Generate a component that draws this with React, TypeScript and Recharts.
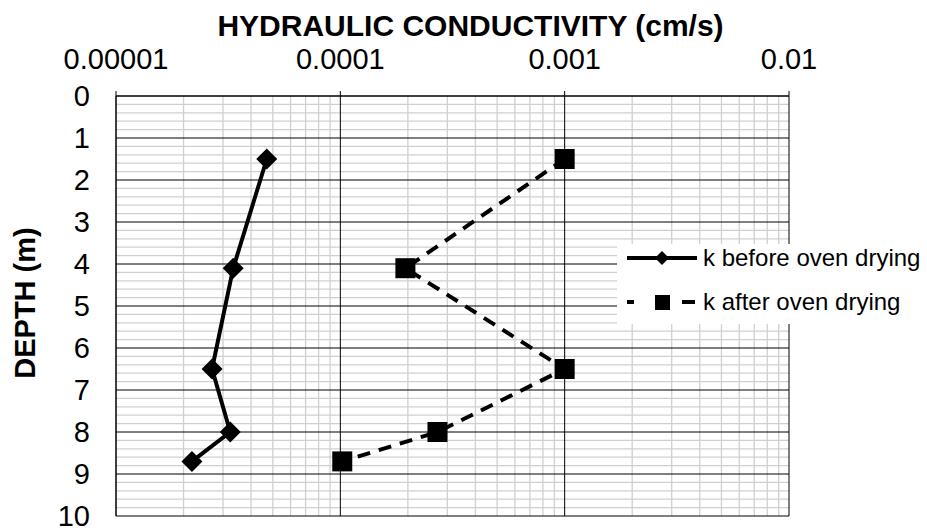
import React from "react"
import {
  Legend,
  ReferenceLine,
  Scatter,
  ScatterChart,
  XAxis,
  YAxis,
} from "recharts"

// depth of each sample (m) and conductivity (cm/s)
const DEPTHS = [1.5, 4.1, 6.5, 8.0, 8.7]
const K_BEFORE = [4.7e-5, 3.33e-5, 2.68e-5, 3.23e-5, 2.18e-5]
const K_AFTER = [1e-3, 1.95e-4, 1e-3, 2.71e-4, 1.02e-4]

const X_TICKS = [1e-5, 1e-4, 1e-3, 1e-2]
const X_TICK_LABELS = ["0.00001", "0.0001", "0.001", "0.01"]
const Y_TICKS = [0, 1, 2, 3, 4, 5, 6, 7, 8, 9, 10]

const SERIES_NAMES = ["k before oven drying", "k after oven drying"]

const FONT = "'Liberation Sans', Arial, sans-serif"

// minor gridlines: 2..9 within each decade, every 0.2 m in depth
const MINOR_X: number[] = []
for (const d of [1e-5, 1e-4, 1e-3]) for (let m = 2; m <= 9; m++) MINOR_X.push(m * d)
const MINOR_Y: number[] = []
for (let i = 1; i < 50; i++) if (i % 5 !== 0) MINOR_Y.push(i / 5)

const before = DEPTHS.map((depth, i) => ({ depth, k: K_BEFORE[i] }))
const after = DEPTHS.map((depth, i) => ({ depth, k: K_AFTER[i] }))

function Diamond({ cx, cy }: any) {
  const r = 10.5
  return <polygon points={`${cx},${cy - r} ${cx + r},${cy} ${cx},${cy + r} ${cx - r},${cy}`} fill="#000" />
}

function Square({ cx, cy }: any) {
  const r = 10
  return <rect x={cx - r} y={cy - r} width={2 * r} height={2 * r} fill="#000" />
}

function LegendBox() {
  const row = { display: "flex", alignItems: "center", height: 28 } as const
  const text = { fontFamily: FONT, fontSize: 24, color: "#000", whiteSpace: "nowrap" } as const
  return (
    <div style={{ background: "#fff", width: 310, height: 80, display: "flex", flexDirection: "column", gap: 16 }}>
      <div style={row}>
        <svg width={86} height={28}>
          <line x1={10} x2={80} y1={14} y2={14} stroke="#000" strokeWidth={4} />
          <polygon points="45,7 52,14 45,21 38,14" fill="#000" />
        </svg>
        <span style={text}>{SERIES_NAMES[0]}</span>
      </div>
      <div style={row}>
        <svg width={86} height={28}>
          <line x1={10} x2={17} y1={14} y2={14} stroke="#000" strokeWidth={4} />
          <rect x={38} y={7} width={15} height={15} fill="#000" />
          <line x1={65} x2={78} y1={14} y2={14} stroke="#000" strokeWidth={4} />
        </svg>
        <span style={text}>{SERIES_NAMES[1]}</span>
      </div>
    </div>
  )
}

export default function App() {
  return (
    <div>
      <style>{"body{margin:0}"}</style>
      <ScatterChart width={927} height={531} margin={{ top: 0, right: 138, bottom: 15, left: 0 }}>
        <XAxis
          dataKey="k"
          type="number"
          scale="log"
          domain={[1e-5, 1e-2]}
          allowDataOverflow
          orientation="top"
          height={96}
          ticks={X_TICKS}
          interval={0}
          tickFormatter={(v) => X_TICK_LABELS[X_TICKS.indexOf(v)]}
          tick={{ fill: "#000", fontSize: 29, fontFamily: FONT }}
          tickSize={5}
          tickMargin={22}
          tickLine={{ stroke: "#000" }}
          axisLine={{ stroke: "#000" }}
          label={{
            content: ({ viewBox }: any) => (
              <text
                x={viewBox.x + viewBox.width / 2 + 18}
                y={viewBox.y + 36}
                textAnchor="middle"
                fontFamily={FONT}
                fontSize={30}
                fontWeight="bold"
                fill="#000"
              >
                HYDRAULIC CONDUCTIVITY (cm/s)
              </text>
            ),
          }}
        />
        <YAxis
          dataKey="depth"
          type="number"
          domain={[0, 10]}
          reversed
          width={116}
          ticks={Y_TICKS}
          interval={0}
          tick={{ fill: "#000", fontSize: 29, fontFamily: FONT }}
          tickSize={0}
          tickMargin={26}
          tickLine={false}
          axisLine={{ stroke: "#000" }}
          label={{
            content: ({ viewBox }: any) => {
              const cx = 35
              const cy = viewBox.y + viewBox.height / 2 - 3
              return (
                <text
                  x={cx}
                  y={cy}
                  transform={`rotate(-90, ${cx}, ${cy})`}
                  textAnchor="middle"
                  fontFamily={FONT}
                  fontSize={29}
                  fontWeight="bold"
                  fill="#000"
                >
                  DEPTH (m)
                </text>
              )
            },
          }}
        />
        {MINOR_X.map((v) => (
          <ReferenceLine key={"mx" + v} x={v} stroke="#d0d0d0" strokeWidth={1.3} />
        ))}
        {MINOR_Y.map((v) => (
          <ReferenceLine key={"my" + v} y={v} stroke="#d0d0d0" strokeWidth={1.3} />
        ))}
        {X_TICKS.map((v) => (
          <ReferenceLine key={"X" + v} x={v} stroke="#000" strokeWidth={1} />
        ))}
        {Y_TICKS.map((v) => (
          <ReferenceLine key={"Y" + v} y={v} stroke="#000" strokeWidth={1} />
        ))}
        <Scatter
          name={SERIES_NAMES[0]}
          data={before}
          line={{ stroke: "#000", strokeWidth: 4 }}
          shape={(p: any) => <Diamond {...p} />}
          isAnimationActive={false}
        />
        <Scatter
          name={SERIES_NAMES[1]}
          data={after}
          line={{ stroke: "#000", strokeWidth: 4, strokeDasharray: "13 9" }}
          shape={(p: any) => <Square {...p} />}
          isAnimationActive={false}
        />
        <Legend
          layout="horizontal"
          align="center"
          verticalAlign="middle"
          wrapperStyle={{ left: 617, top: 244, width: 310, height: 80 }}
          content={() => <LegendBox />}
        />
      </ScatterChart>
    </div>
  )
}
